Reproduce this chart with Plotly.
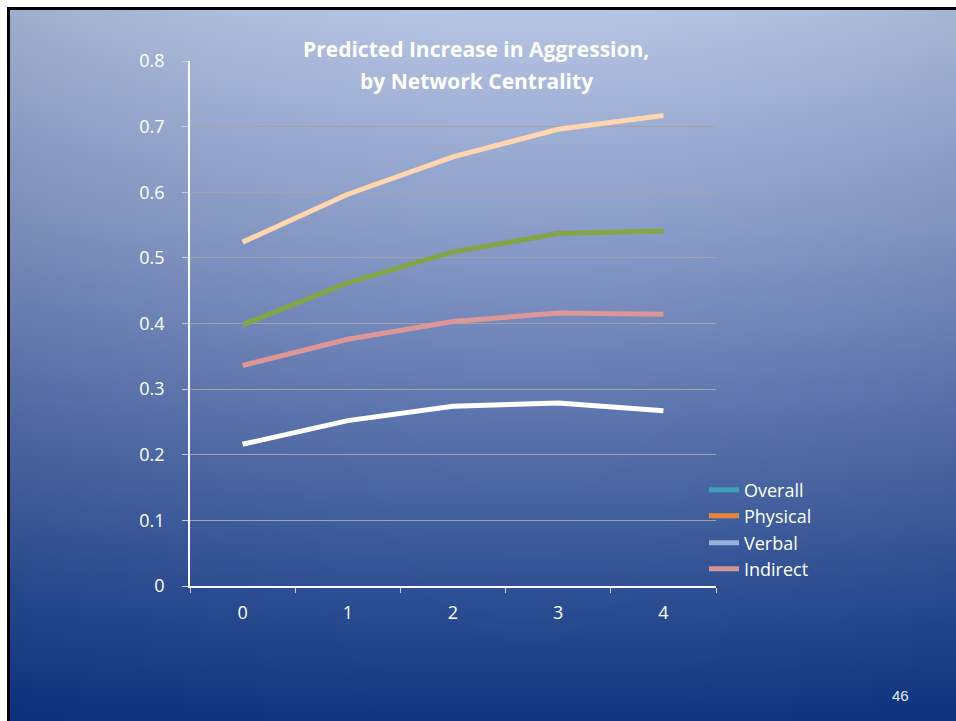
import base64
import struct
import zlib

import plotly.graph_objects as go

# ---- data -------------------------------------------------------------
centrality = ["0", "1", "2", "3", "4"]
physical = [0.524, 0.597, 0.654, 0.696, 0.717]
overall = [0.398, 0.462, 0.509, 0.537, 0.541]
indirect = [0.336, 0.376, 0.403, 0.416, 0.414]
verbal = [0.216, 0.252, 0.274, 0.279, 0.267]

y_ticks = [0, 0.1, 0.2, 0.3, 0.4, 0.5, 0.6, 0.7, 0.8]
y_tick_text = ["0", "0.1", "0.2", "0.3", "0.4", "0.5", "0.6", "0.7", "0.8"]

legend_names = ["Overall", "Physical", "Verbal", "Indirect"]
legend_colors = ["#3fa3b8", "#e8843a", "#98b0d8", "#d49594"]

FONT = "Open Sans"

# ---- page geometry (pixels) ------------------------------------------
W, H = 956, 721
PL, PR, PT, PB = 190, 716, 61, 586  # plot area edges
pw, ph = PR - PL, PB - PT


def px_x(x):
    return (x - PL) / pw


def px_y(y):
    return (PB - y) / ph


# ---- slide background gradient as a small PNG ------------------------
def lerp(a, b, t):
    return a + (b - a) * t


stops = [
    (0.00, (182, 196, 227)),
    (0.30, (140, 158, 202)),
    (0.50, (106, 128, 182)),
    (0.70, (70, 98, 160)),
    (0.85, (42, 76, 145)),
    (1.00, (18, 54, 130)),
]


def bg_color(u, v):
    for (v0, c0), (v1, c1) in zip(stops[:-1], stops[1:]):
        if v <= v1:
            t = (v - v0) / (v1 - v0)
            base = [lerp(c0[i], c1[i], t) for i in range(3)]
            break
    dx = (u - 0.55) / 0.55
    k = 22 * (1 - 0.75 * v)
    return [max(0, min(255, int(round(c - k * dx * dx)))) for c in base]


def make_png(w, h):
    raw = b""
    for j in range(h):
        row = b"\x00"
        for i in range(w):
            row += bytes(bg_color(i / (w - 1), j / (h - 1)))
        raw += row

    def chunk(tag, data):
        c = struct.pack(">I", len(data)) + tag + data
        return c + struct.pack(">I", zlib.crc32(tag + data) & 0xFFFFFFFF)

    png = b"\x89PNG\r\n\x1a\n"
    png += chunk(b"IHDR", struct.pack(">IIBBBBB", w, h, 8, 2, 0, 0, 0))
    png += chunk(b"IDAT", zlib.compress(raw, 9))
    png += chunk(b"IEND", b"")
    return "data:image/png;base64," + base64.b64encode(png).decode()


bg_src = make_png(96, 72)

# ---- figure -----------------------------------------------------------
fig = go.Figure()

series = [
    ("Physical", physical, "#ffd6ad"),
    ("Overall", overall, "#84a547"),
    ("Indirect", indirect, "#de9797"),
    ("Verbal", verbal, "#ffffff"),
]
for name, vals, col in series:
    fig.add_trace(go.Scatter(
        x=centrality, y=vals, mode="lines", name=name,
        line=dict(color=col, width=5), showlegend=False,
    ))

legend_keys = ["legend", "legend2", "legend3", "legend4"]
legend_y_px = [490, 516, 543, 569]
for name, col, key in zip(legend_names, legend_colors, legend_keys):
    fig.add_trace(go.Scatter(
        x=[None], y=[None], mode="lines", name=name,
        line=dict(color=col, width=5), legend=key,
    ))

legend_style = dict(
    x=px_x(704), xanchor="left", yanchor="middle",
    bgcolor="rgba(0,0,0,0)", borderwidth=0,
    font=dict(family=FONT, size=18, color="#ffffff"),
)
layout_legends = {}
for key, ypx in zip(legend_keys, legend_y_px):
    layout_legends[key] = dict(legend_style, y=px_y(ypx))

shapes = [
    # slide frame (top and left edges)
    dict(type="rect", xref="paper", yref="paper", layer="below",
         x0=px_x(7), x1=px_x(W), y0=px_y(7), y1=px_y(10),
         fillcolor="#000000", line=dict(width=0)),
    dict(type="rect", xref="paper", yref="paper", layer="below",
         x0=px_x(7), x1=px_x(10), y0=px_y(7), y1=px_y(H),
         fillcolor="#000000", line=dict(width=0)),
]

annotations = [
    dict(text="<b>Predicted Increase in Aggression,</b>", xref="paper", yref="paper",
         x=px_x(476), y=px_y(49), xanchor="center", yanchor="middle", showarrow=False,
         font=dict(family=FONT, size=21, color="#ffffff")),
    dict(text="<b>by Network Centrality</b>", xref="paper", yref="paper",
         x=px_x(476), y=px_y(81), xanchor="center", yanchor="middle", showarrow=False,
         font=dict(family=FONT, size=21, color="#ffffff")),
    dict(text="46", xref="paper", yref="paper",
         x=px_x(900), y=px_y(695), xanchor="center", yanchor="middle", showarrow=False,
         font=dict(family="Liberation Sans", size=15, color="#e4e8f2")),
]

fig.update_layout(
    width=W, height=H,
    margin=dict(l=PL, r=W - PR, t=PT, b=H - PB, pad=0),
    paper_bgcolor="#ffffff",
    plot_bgcolor="rgba(0,0,0,0)",
    images=[dict(source=bg_src, xref="paper", yref="paper",
                 x=px_x(10), y=px_y(10), sizex=(W - 10) / pw, sizey=(H - 10) / ph,
                 xanchor="left", yanchor="top", sizing="stretch", layer="below")],
    shapes=shapes,
    annotations=annotations,
    **layout_legends,
)

fig.update_xaxes(
    type="category", range=[-0.5, 4.5], tickson="boundaries",
    ticks="outside", ticklen=5, tickcolor="#d0d4e0", tickwidth=1,
    showline=True, linecolor="#ffffff", linewidth=1.5,
    showgrid=False, zeroline=False,
    tickfont=dict(family=FONT, size=18, color="#ffffff"),
    ticklabelstandoff=10,
)
fig.update_yaxes(
    range=[0, 0.8], tickvals=y_ticks, ticktext=y_tick_text,
    ticks="outside", ticklen=6, tickcolor="#c8ccd8", tickwidth=1,
    showline=True, linecolor="#ffffff", linewidth=1.5,
    showgrid=True, gridcolor="#a2a2a8", gridwidth=1,
    zeroline=False,
    tickfont=dict(family=FONT, size=18, color="#ffffff"),
    ticklabelstandoff=14,
)

fig.write_html("out.html")
